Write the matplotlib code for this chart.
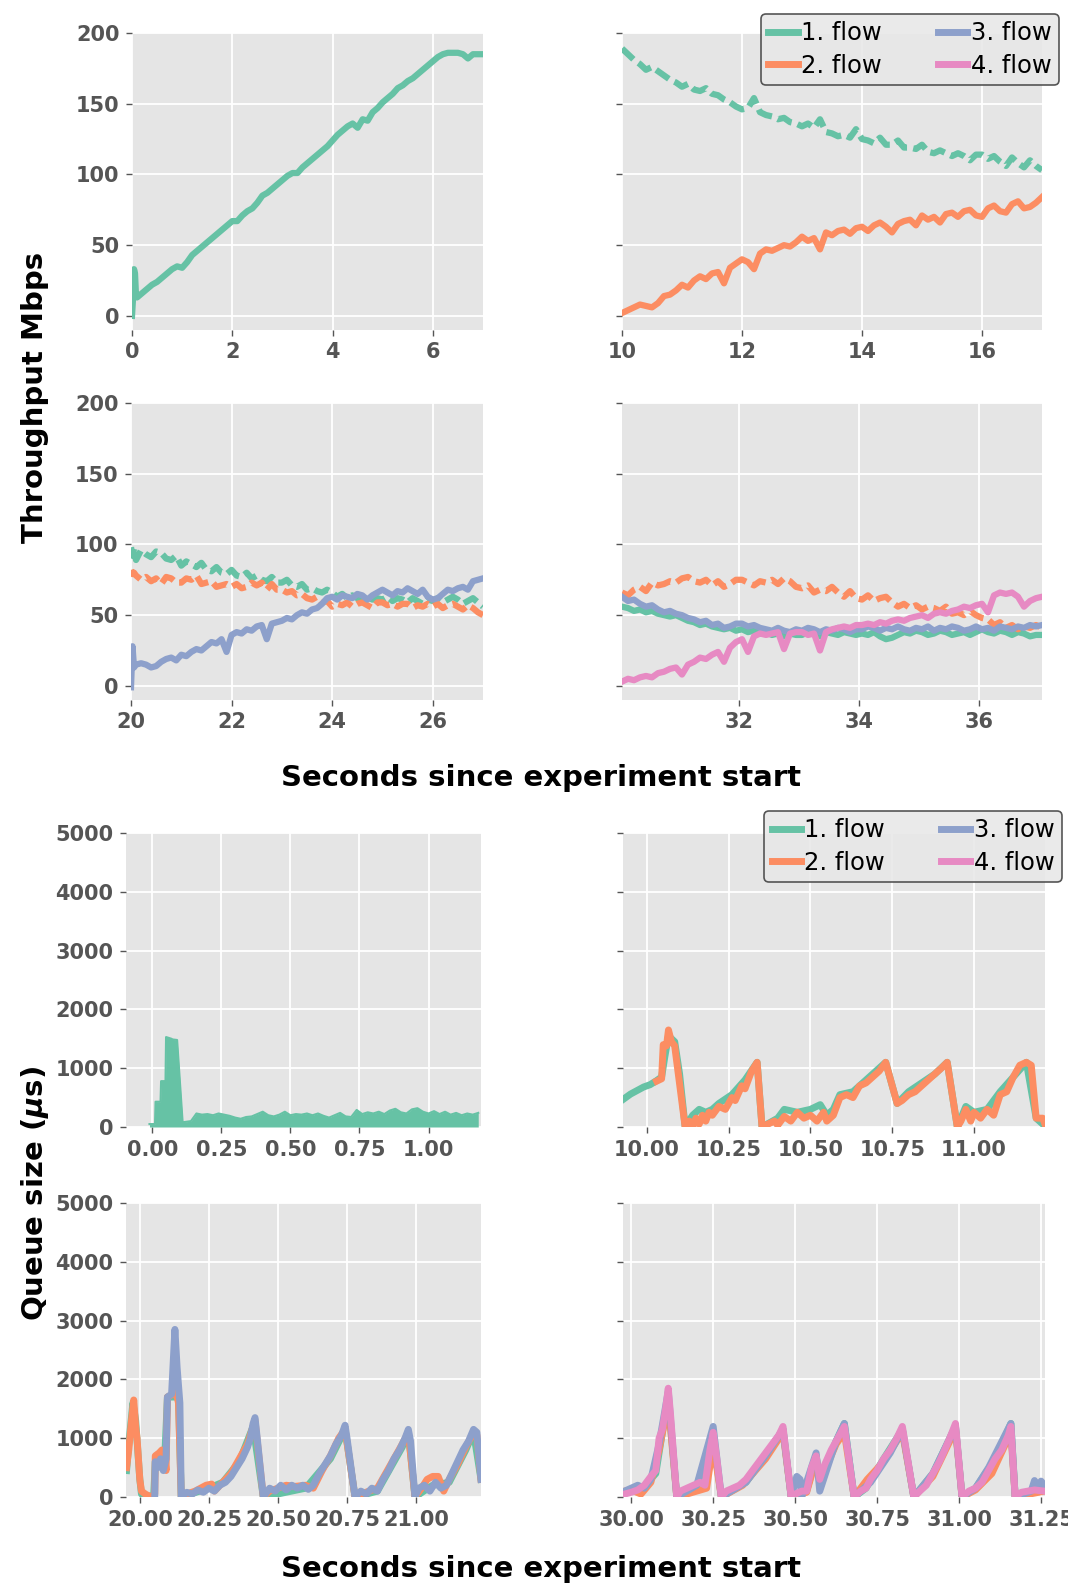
import numpy as np
import matplotlib
matplotlib.use('Agg')
import matplotlib.pyplot as plt
from matplotlib.lines import Line2D

plt.style.use('ggplot')
plt.rcParams['font.family'] = ['DejaVu Sans']
plt.rcParams['font.weight'] = 'bold'

# Set2 colours for the four flows
colors = ['#66c2a5', '#fc8d62', '#8da0cb', '#e78ac3']
flow_labels = ['1. flow', '2. flow', '3. flow', '4. flow']

# ---------------- throughput data (Mbps) ----------------
# panel A: 0 - 7 s, only flow 1
a_t = [0.0, 0.02, 0.04, 0.06, 0.08, 0.10,
       0.2, 0.3, 0.4, 0.5, 0.6, 0.7, 0.8, 0.9, 1.0,
       1.1, 1.2, 1.3, 1.4, 1.5, 1.6, 1.7, 1.8, 1.9, 2.0,
       2.1, 2.2, 2.3, 2.4, 2.5, 2.6, 2.7, 2.8, 2.9, 3.0,
       3.1, 3.2, 3.3, 3.4, 3.5, 3.6, 3.7, 3.8, 3.9, 4.0,
       4.1, 4.2, 4.3, 4.4, 4.5, 4.6, 4.7, 4.8, 4.9, 5.0,
       5.1, 5.2, 5.3, 5.4, 5.5, 5.6, 5.7, 5.8, 5.9, 6.0,
       6.1, 6.2, 6.3, 6.4, 6.5, 6.6, 6.7, 6.8, 6.9, 7.0]
a_f1 = [0, 12, 33, 30, 14, 13,
        16, 19, 22, 24, 27, 30, 33, 35, 34,
        38, 43, 46, 49, 52, 55, 58, 61, 64, 67,
        67, 71, 74, 76, 80, 85, 87, 90, 93, 96,
        99, 101, 101, 105, 108, 111, 114, 117, 120, 124,
        128, 131, 134, 136, 133, 139, 138, 144, 147, 151,
        154, 157, 161, 163, 166, 168, 171, 174, 177, 180,
        183, 185, 186, 186, 186, 185, 182, 185, 185, 185]

# panel B: 10 - 17 s, sampled every 0.1 s
b_t = np.round(np.arange(10.0, 17.001, 0.1), 2)
b_f1 = [189, 185, 181, 178, 174, 176, 173, 170, 167, 165,
        162, 164, 160, 159, 161, 157, 156, 153, 151, 148,
        146, 147, 154, 144, 142, 141, 139, 140, 137, 136,
        134, 136, 133, 139, 130, 129, 127, 128, 126, 132,
        125, 124, 122, 126, 121, 121, 124, 119, 119, 118,
        121, 116, 115, 117, 115, 113, 115, 113, 110, 114,
        114, 111, 113, 109, 106, 112, 108, 105, 110, 106,
        103]
b_f2 = [2, 4, 6, 8, 7, 6, 9, 14, 15, 18,
        22, 20, 25, 28, 26, 30, 31, 23, 34, 37,
        40, 38, 33, 44, 47, 46, 48, 50, 49, 52,
        56, 53, 55, 47, 59, 57, 60, 61, 58, 62,
        63, 60, 64, 66, 63, 59, 65, 67, 68, 64,
        71, 68, 70, 66, 72, 73, 70, 74, 75, 71,
        70, 76, 78, 74, 73, 79, 81, 76, 77, 80,
        84]

# panel C: 20 - 27 s
c_t = [20.0, 20.03, 20.06] + list(np.round(np.arange(20.1, 27.001, 0.1), 2))
c_f1 = [98, 92, 97,
        89, 96, 93, 91, 95, 94, 90, 89, 92,
        85, 88, 86, 84, 87, 82, 81, 84, 80, 79,
        82, 78, 77, 80, 76, 78, 75, 74, 77, 73,
        73, 75, 71, 70, 72, 68, 69, 67, 66, 68,
        66, 63, 65, 62, 64, 62, 60, 63, 61, 62,
        61, 63, 60, 62, 61, 59, 62, 60, 58, 61,
        60, 62, 59, 61, 63, 61, 58, 60, 62, 59,
        56]
c_f2 = [82, 79, 80,
        78, 75, 77, 74, 76, 72, 77, 76, 73,
        73, 76, 75, 78, 72, 73, 74, 70, 71, 72,
        70, 72, 69, 70, 73, 71, 73, 68, 72, 68,
        68, 66, 67, 64, 65, 62, 61, 63, 59, 60,
        56, 58, 57, 59, 56, 58, 59, 57, 55, 59,
        59, 57, 58, 56, 58, 58, 55, 57, 56, 58,
        56, 58, 55, 57, 58, 56, 54, 57, 55, 52,
        50]
c_f3 = [-1, 28, 13,
        15, 16, 15, 13, 14, 17, 19, 20, 18,
        22, 21, 24, 26, 25, 28, 31, 30, 33, 24,
        36, 38, 37, 40, 39, 42, 43, 33, 44, 45,
        46, 48, 47, 50, 52, 51, 54, 55, 58, 62,
        63, 61, 64, 63, 62, 65, 64, 61, 64, 66,
        68, 66, 64, 67, 66, 69, 67, 65, 68, 63,
        61, 62, 65, 68, 67, 69, 70, 68, 74, 75,
        76]

# panel D: 30 - 37 s
d_t = np.round(np.arange(30.05, 37.051, 0.1), 2)
d_f1 = [56, 55, 53, 54, 52, 53, 51, 50, 49, 50,
        48, 46, 45, 43, 44, 42, 41, 40, 41, 39,
        40, 38, 39, 37, 38, 36, 37, 35, 37, 36,
        36, 38, 37, 35, 38, 37, 36, 38, 37, 36,
        37, 36, 38, 35, 33, 34, 36, 38, 37, 39,
        38, 36, 37, 39, 38, 36, 37, 38, 36, 38,
        40, 38, 37, 39, 38, 36, 38, 37, 35, 36,
        36]
d_f2 = [66, 64, 68, 70, 67, 73, 71, 72, 74, 73,
        76, 77, 74, 73, 75, 71, 74, 70, 72, 75,
        75, 73, 71, 74, 73, 75, 72, 76, 74, 70,
        69, 71, 66, 68, 67, 70, 66, 63, 67, 62,
        61, 64, 60, 62, 63, 59, 56, 58, 55, 57,
        54, 56, 55, 53, 56, 51, 52, 50, 53, 50,
        48, 47, 43, 45, 41, 43, 40, 42, 41, 43,
        41]
d_f3 = [63, 60, 61, 58, 56, 57, 54, 52, 53, 51,
        50, 48, 47, 45, 46, 43, 44, 41, 42, 44,
        44, 42, 43, 41, 40, 39, 41, 39, 38, 40,
        39, 41, 40, 38, 40, 39, 41, 40, 38, 40,
        40, 42, 41, 39, 41, 40, 42, 40, 39, 41,
        40, 42, 39, 41, 40, 42, 41, 39, 40, 42,
        40, 41, 39, 42, 41, 40, 42, 41, 43, 42,
        43]
d_f4 = [3, 5, 4, 6, 7, 6, 9, 10, 12, 13,
        8, 15, 17, 20, 19, 22, 24, 17, 27, 31,
        33, 24, 35, 37, 36, 37, 38, 26, 37, 38,
        38, 36, 37, 25, 38, 40, 41, 42, 41, 43,
        43, 44, 43, 45, 44, 46, 47, 46, 48, 49,
        50, 48, 51, 52, 51, 53, 54, 56, 55, 57,
        58, 52, 64, 66, 65, 66, 63, 56, 60, 62,
        63]

# ---------------- queue data (microseconds) ----------------
e_t = [-0.01, 0.01, 0.012, 0.03, 0.032, 0.048, 0.05, 0.07, 0.072, 0.09, 0.11, 0.14,
       0.16, 0.18, 0.20, 0.22, 0.24, 0.26, 0.28, 0.30, 0.32, 0.34,
       0.36, 0.38, 0.40, 0.42, 0.44, 0.46, 0.48, 0.50, 0.52, 0.54,
       0.56, 0.58, 0.60, 0.62, 0.64, 0.66, 0.68, 0.70, 0.72, 0.74,
       0.76, 0.78, 0.80, 0.82, 0.84, 0.86, 0.88, 0.90, 0.92, 0.94,
       0.96, 0.98, 1.00, 1.02, 1.04, 1.06, 1.08, 1.10, 1.12, 1.14,
       1.16, 1.18]
e_f1 = [50, 50, 430, 430, 780, 780, 1530, 1500, 1490, 1480, 80, 100,
        230, 210, 220, 200, 230, 210, 190, 160, 140, 170,
        180, 220, 260, 200, 180, 210, 260, 200, 220, 210,
        230, 200, 230, 190, 160, 200, 240, 180, 170, 290,
        220, 250, 230, 260, 220, 280, 310, 250, 230, 300,
        320, 260, 230, 270, 220, 260, 210, 240, 200, 230,
        210, 240]

f1_t = [9.93, 9.95, 9.97, 9.99, 10.01, 10.03, 10.045, 10.055, 10.066, 10.085, 10.10, 10.117,
        10.14, 10.16, 10.18, 10.20, 10.22, 10.26, 10.30, 10.337, 10.352, 10.40, 10.42, 10.46,
        10.50, 10.53, 10.55, 10.57, 10.59, 10.63, 10.67, 10.71, 10.73, 10.765, 10.80, 10.84,
        10.88, 10.918, 10.949, 10.975, 11.00, 11.04, 11.08, 11.12, 11.16, 11.19, 11.22]
f1_q = [480, 560, 620, 680, 720, 790, 850, 1200, 1550, 1450, 900, 0,
        200, 300, 250, 300, 400, 550, 800, 1100, 0, 150, 300, 250,
        300, 380, 200, 300, 550, 600, 800, 1000, 1100, 400, 600, 750,
        900, 1100, 0, 350, 250, 300, 600, 850, 1100, 150, 0]
f2_t = [10.03, 10.045, 10.05, 10.06, 10.066, 10.075, 10.085, 10.117, 10.13, 10.14,
        10.15, 10.16, 10.17, 10.18, 10.19, 10.20, 10.22, 10.24, 10.26, 10.27,
        10.29, 10.30, 10.32, 10.337, 10.352, 10.37, 10.39, 10.40, 10.42, 10.44,
        10.46, 10.48, 10.50, 10.52, 10.54, 10.55, 10.57, 10.59, 10.61, 10.63,
        10.65, 10.67, 10.69, 10.71, 10.73, 10.765, 10.78, 10.80, 10.82, 10.84,
        10.86, 10.88, 10.90, 10.918, 10.949, 10.96, 10.975, 10.99, 11.00, 11.02,
        11.04, 11.06, 11.08, 11.10, 11.12, 11.14, 11.16, 11.175, 11.19, 11.21,
        11.22]
f2_q = [780, 820, 1400, 1380, 1650, 1450, 1380, 0, 100, 0,
        150, 50, 200, 100, 250, 200, 350, 300, 500, 450,
        700, 650, 950, 1100, 0, 50, 100, 30, 180, 100,
        250, 150, 200, 100, 250, 100, 200, 500, 550, 500,
        700, 750, 850, 950, 1100, 400, 450, 550, 600, 700,
        800, 900, 1000, 1100, 0, 100, 300, 100, 250, 150,
        300, 200, 550, 600, 850, 1050, 1100, 1050, 150, 150,
        0]

g1_t = [19.952, 19.96, 19.975, 19.985, 20.0, 20.006, 20.05, 20.056, 20.09, 20.10,
        20.14, 20.15, 20.25, 20.30, 20.36, 20.41, 20.447, 20.60, 20.69, 20.743,
        20.779, 20.86, 20.95, 20.972, 20.996, 21.06, 21.12, 21.18, 21.208, 21.235]
g1_q = [450, 900, 1600, 1300, 300, 50, 0, 600, 650, 1700,
        1700, 0, 150, 250, 600, 1200, 0, 150, 650, 1150,
        0, 100, 850, 1100, 0, 200, 250, 800, 1100, 300]
g2_t = [19.952, 19.96, 19.97, 19.978, 19.985, 19.99, 20.0, 20.006, 20.02, 20.04,
        20.054, 20.056, 20.07, 20.08, 20.09, 20.095, 20.10, 20.12, 20.13, 20.14,
        20.15, 20.17, 20.20, 20.22, 20.24, 20.26, 20.27, 20.30, 20.33, 20.36,
        20.39, 20.41, 20.417, 20.447, 20.47, 20.50, 20.53, 20.56, 20.60, 20.628,
        20.66, 20.69, 20.72, 20.743, 20.779, 20.80, 20.83, 20.86, 20.89, 20.92,
        20.95, 20.972, 20.996, 21.02, 21.04, 21.06, 21.08, 21.10, 21.12, 21.15,
        21.18, 21.208, 21.22, 21.235]
g2_q = [500, 800, 1300, 1650, 1200, 1000, 300, 100, 50, 0,
        50, 700, 750, 800, 700, 450, 1700, 1750, 1800, 1600,
        0, 50, 100, 150, 200, 220, 100, 250, 400, 650,
        900, 1200, 1300, 0, 100, 150, 200, 180, 200, 150,
        450, 700, 1000, 1150, 0, 50, 100, 150, 400, 650,
        900, 1100, 0, 150, 300, 350, 350, 100, 300, 550,
        850, 1100, 1050, 300]
g3_t = [20.054, 20.056, 20.065, 20.075, 20.085, 20.095, 20.10, 20.115, 20.127, 20.135,
        20.145, 20.15, 20.17, 20.19, 20.21, 20.23, 20.25, 20.27, 20.29, 20.31,
        20.33, 20.35, 20.37, 20.39, 20.40, 20.41, 20.417, 20.425, 20.447, 20.47,
        20.49, 20.51, 20.53, 20.55, 20.57, 20.59, 20.61, 20.628, 20.65, 20.67,
        20.69, 20.71, 20.73, 20.743, 20.75, 20.779, 20.80, 20.82, 20.84, 20.86,
        20.88, 20.90, 20.92, 20.94, 20.96, 20.972, 20.98, 20.996, 21.01, 21.03,
        21.05, 21.07, 21.09, 21.11, 21.13, 21.15, 21.17, 21.19, 21.208, 21.22,
        21.235]
g3_q = [0, 600, 500, 650, 450, 650, 1700, 1750, 2850, 2200,
        1600, 0, 80, 50, 120, 80, 150, 100, 200, 250,
        350, 500, 650, 850, 1000, 1250, 1350, 1000, 0, 150,
        100, 200, 120, 200, 150, 200, 130, 200, 400, 550,
        700, 900, 1050, 1220, 1000, 0, 100, 50, 150, 100,
        300, 450, 650, 800, 1000, 1150, 950, 0, 150, 200,
        100, 250, 150, 200, 400, 600, 800, 950, 1150, 1100,
        300]

h1_t = [29.98, 30.04, 30.075, 30.095, 30.113, 30.139, 30.20, 30.24, 30.25, 30.275,
        30.35, 30.41, 30.463, 30.488, 30.535, 30.564, 30.575, 30.625, 30.65, 30.68,
        30.716, 30.77, 30.827, 30.862, 30.92, 30.989, 31.009, 31.05, 31.11, 31.158,
        31.171, 31.26]
h1_q = [80, 180, 400, 1100, 1700, 0, 180, 900, 1000, 0,
        250, 700, 1150, 0, 100, 700, 300, 950, 1250, 0,
        150, 650, 1150, 0, 400, 1200, 0, 150, 650, 1250,
        0, 150]
h2_t = [29.98, 30.0, 30.03, 30.06, 30.085, 30.113, 30.139, 30.23, 30.25, 30.275,
        30.34, 30.41, 30.463, 30.488, 30.535, 30.564, 30.575, 30.625, 30.65, 30.68,
        30.72, 30.77, 30.827, 30.862, 30.92, 30.989, 31.009, 31.05, 31.10, 31.158,
        31.171, 31.26]
h2_q = [100, 120, 50, 250, 800, 1600, 0, 150, 900, 0,
        200, 650, 1100, 0, 80, 650, 250, 900, 1100, 0,
        300, 600, 1100, 0, 350, 1150, 0, 120, 400, 1100,
        0, 100]
h3_t = [29.98, 30.0, 30.02, 30.04, 30.06, 30.085, 30.113, 30.139, 30.20, 30.25,
        30.275, 30.35, 30.41, 30.463, 30.488, 30.505, 30.515, 30.52, 30.564, 30.575,
        30.625, 30.65, 30.68, 30.73, 30.79, 30.827, 30.862, 30.92, 30.989, 31.009,
        31.05, 31.09, 31.158, 31.171, 31.22, 31.23, 31.24, 31.25, 31.26]
h3_q = [100, 150, 200, 150, 300, 900, 1800, 0, 200, 1200,
        0, 250, 700, 1150, 0, 350, 300, 0, 750, 100,
        950, 1250, 0, 250, 750, 1150, 0, 400, 1200, 0,
        150, 500, 1250, 0, 100, 280, 150, 270, 200]
h4_t = [29.98, 30.0, 30.02, 30.04, 30.06, 30.075, 30.085, 30.095, 30.105, 30.113,
        30.12, 30.139, 30.15, 30.17, 30.19, 30.21, 30.225, 30.24, 30.25, 30.26,
        30.275, 30.29, 30.31, 30.33, 30.35, 30.37, 30.39, 30.41, 30.43, 30.45,
        30.463, 30.488, 30.50, 30.52, 30.535, 30.55, 30.564, 30.575, 30.59, 30.61,
        30.625, 30.64, 30.65, 30.68, 30.70, 30.716, 30.73, 30.75, 30.77, 30.79,
        30.81, 30.827, 30.862, 30.88, 30.90, 30.92, 30.94, 30.96, 30.975, 30.989,
        31.009, 31.03, 31.05, 31.07, 31.09, 31.11, 31.13, 31.15, 31.158, 31.171,
        31.19, 31.21, 31.23, 31.26]
h4_q = [50, 80, 120, 200, 350, 450, 1000, 1150, 1500, 1850,
        1400, 0, 100, 150, 200, 250, 200, 800, 1100, 700,
        0, 100, 150, 200, 300, 450, 600, 750, 900, 1050,
        1200, 0, 50, 100, 100, 500, 700, 300, 550, 800,
        950, 1100, 1200, 0, 100, 150, 300, 450, 650, 800,
        1000, 1200, 0, 100, 200, 400, 600, 850, 1050, 1250,
        0, 100, 150, 250, 450, 650, 800, 1050, 1200, 0,
        80, 100, 120, 100]

W, H = 1068, 1588
fig = plt.figure(figsize=(W / 100, H / 100), dpi=100)


def box(x0, y0, x1, y1):
    # pixel box (top-left origin) -> figure fraction rect
    return [x0 / W, 1 - y1 / H, (x1 - x0) / W, (y1 - y0) / H]


def style_ax(ax, show_ylabels):
    ax.set_facecolor('#E5E5E5')
    for s in ax.spines.values():
        s.set_visible(False)
    ax.grid(True, color='white', lw=1.3)
    ax.set_axisbelow(True)
    ax.tick_params(axis='both', labelsize=15, colors='#555555', length=4, width=1, pad=5)
    ax.tick_params(axis='y', labelleft=show_ylabels)


def add_legend(ax, anchor):
    handles = [Line2D([], [], color=c, lw=5) for c in colors]
    leg = ax.legend(handles, flow_labels, ncol=2, loc='upper right', bbox_to_anchor=anchor,
                    borderaxespad=0, prop={'size': 17.5, 'weight': 'normal'},
                    handlelength=1.2, handletextpad=0.15, columnspacing=2.3,
                    labelspacing=0.35, borderpad=0.3, frameon=True, fancybox=True)
    leg.get_frame().set_facecolor('#E8E8E8')
    leg.get_frame().set_edgecolor('#444444')
    leg.get_frame().set_alpha(0.9)
    leg.get_frame().set_linewidth(1.2)


lw_t = 4.5
dash = (0, (2.5, 1))

# ---------- throughput ----------
axA = fig.add_axes(box(132, 33, 483, 330))
axA.plot(a_t, a_f1, color=colors[0], lw=lw_t)
axA.set_xlim(0, 7)
axA.set_xticks([0, 2, 4, 6])

axB = fig.add_axes(box(622, 33, 1042, 330))
axB.plot(b_t, b_f1, color=colors[0], lw=lw_t, ls=dash)
axB.plot(b_t, b_f2, color=colors[1], lw=lw_t)
axB.set_xlim(10, 17)
axB.set_xticks([10, 12, 14, 16])
add_legend(axB, (1.04, 1.064))

axC = fig.add_axes(box(131, 403, 483, 700))
axC.plot(c_t, c_f1, color=colors[0], lw=lw_t, ls=dash)
axC.plot(c_t, c_f2, color=colors[1], lw=lw_t, ls=dash)
axC.plot(c_t, c_f3, color=colors[2], lw=lw_t)
axC.set_xlim(20, 27)
axC.set_xticks([20, 22, 24, 26])

axD = fig.add_axes(box(622, 403, 1042, 700))
axD.plot(d_t, d_f1, color=colors[0], lw=lw_t)
axD.plot(d_t, d_f2, color=colors[1], lw=lw_t, ls=dash)
axD.plot(d_t, d_f3, color=colors[2], lw=lw_t)
axD.plot(d_t, d_f4, color=colors[3], lw=lw_t)
axD.set_xlim(30.05, 37.05)
axD.set_xticks([32, 34, 36])

for ax, left in [(axA, True), (axB, False), (axC, True), (axD, False)]:
    ax.set_ylim(-10, 200)
    ax.set_yticks([0, 50, 100, 150, 200])
    style_ax(ax, left)

# ---------- queue ----------
lw_q = 5
axE = fig.add_axes(box(126, 833, 481, 1127))
axE.fill_between(e_t, 0, e_f1, color=colors[0], lw=0)
axE.plot(e_t, e_f1, color=colors[0], lw=1.5)
axE.set_xlim(-0.095, 1.19)
axE.set_xticks([0.0, 0.25, 0.5, 0.75, 1.0])

axF = fig.add_axes(box(623, 833, 1045, 1127))
axF.plot(f1_t, f1_q, color=colors[0], lw=lw_q)
axF.plot(f2_t, f2_q, color=colors[1], lw=lw_q)
axF.set_xlim(9.927, 11.217)
axF.set_xticks([10.0, 10.25, 10.5, 10.75, 11.0])
add_legend(axF, (1.04, 1.075))

axG = fig.add_axes(box(126, 1203, 481, 1497))
axG.plot(g1_t, g1_q, color=colors[0], lw=lw_q)
axG.plot(g2_t, g2_q, color=colors[1], lw=lw_q)
axG.plot(g3_t, g3_q, color=colors[2], lw=lw_q)
axG.set_xlim(19.95, 21.235)
axG.set_xticks([20.0, 20.25, 20.5, 20.75, 21.0])

axH = fig.add_axes(box(623, 1203, 1045, 1497))
axH.plot(h1_t, h1_q, color=colors[0], lw=lw_q)
axH.plot(h2_t, h2_q, color=colors[1], lw=lw_q)
axH.plot(h3_t, h3_q, color=colors[2], lw=lw_q)
axH.plot(h4_t, h4_q, color=colors[3], lw=lw_q)
axH.set_xlim(29.975, 31.262)
axH.set_xticks([30.0, 30.25, 30.5, 30.75, 31.0, 31.25])

for ax, left in [(axE, True), (axF, False), (axG, True), (axH, False)]:
    ax.set_ylim(0, 5000)
    ax.set_yticks([0, 1000, 2000, 3000, 4000, 5000])
    ax.xaxis.set_major_formatter(matplotlib.ticker.FormatStrFormatter('%.2f'))
    style_ax(ax, left)

# ---------- shared labels ----------
fig.text(541 / W, 1 - 778 / H, 'Seconds since experiment start', ha='center', va='center',
         fontsize=21, fontweight='bold', color='black')
fig.text(541 / W, 1 - 1569 / H, 'Seconds since experiment start', ha='center', va='center',
         fontsize=21, fontweight='bold', color='black')
fig.text(35 / W, 1 - 397 / H, 'Throughput Mbps', ha='center', va='center', rotation=90,
         fontsize=21, fontweight='bold', color='black')
fig.text(35 / W, 1 - 1194 / H, r'Queue size ($\mu$s)', ha='center', va='center', rotation=90,
         fontsize=21, fontweight='bold', color='black')

fig.savefig('out.png', dpi=100, facecolor='white')
